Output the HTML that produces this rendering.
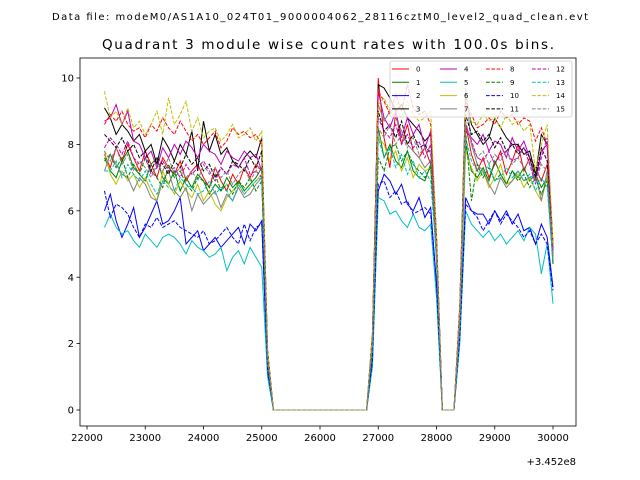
<!DOCTYPE html>
<html><head><meta charset="utf-8"><style>
body{margin:0;background:#fff}
svg{display:block;font-family:"DejaVu Sans","Liberation Sans",sans-serif}
</style></head><body>
<svg id="chart" width="640" height="480" viewBox="0 0 640 480">
<rect width="640" height="480" fill="#fff"/>
<text x="320" y="20" font-size="10" text-anchor="middle" textLength="536">Data file: modeM0/AS1A10_024T01_9000004062_28116cztM0_level2_quad_clean.evt</text>
<text x="328" y="49" font-size="13.5" text-anchor="middle" textLength="452">Quadrant 3 module wise count rates with 100.0s bins.</text>
<g id="plot"></g>
<g id="axes"></g>
<g id="legend"></g>
</svg>
<script>
const times = [];
for (let t = 22300; t <= 30000; t += 100) times.push(t);
const Z = [0,0,0,0,0,0,0,0,0,0,0,0,0,0,0,0,0];
const seriesNames = ["0","1","2","3","4","5","6","7","8","9","10","11","12","13","14","15"];
const s0 = [7.7,7.3,7.9,7.5,8.0,7.6,7.2,7.8,7.4,7.0,7.6,7.3,7.1,7.5,6.9,7.2,7.4,7.0,6.7,7.3,6.9,6.6,7.1,6.8,7.3,7.0,7.4,7.2,1.5,...Z,2.0,10.0,8.2,7.3,9.0,8.0,8.6,7.8,7.6,7.9,7.4,4.8,0,0,0,2.8,8.6,7.7,7.2,7.6,7.0,7.4,7.8,7.1,7.5,8.0,7.2,7.6,7.3,6.9,7.4,4.6];
const s1 = [7.6,7.2,7.0,7.5,7.8,7.3,7.1,6.9,7.4,7.6,7.0,6.8,7.2,6.6,7.0,6.7,7.1,6.9,6.5,6.8,6.6,7.0,6.7,6.9,6.6,6.8,7.0,7.3,1.4,...Z,1.8,8.5,7.6,8.0,7.5,7.3,7.8,7.2,7.0,6.9,7.4,4.5,0,0,0,2.6,8.0,7.2,7.0,7.3,6.9,7.5,7.1,6.8,7.2,7.0,7.3,6.9,7.1,6.7,7.0,4.4];
const s2 = [6.0,6.5,5.7,5.2,5.6,6.1,5.2,5.5,5.9,6.3,5.6,5.7,6.0,6.4,5.0,5.2,5.4,4.8,5.0,5.2,4.9,5.1,5.3,5.5,5.0,5.6,5.4,5.7,1.2,...Z,1.5,6.6,7.1,6.9,6.5,6.8,6.2,6.0,6.4,5.8,6.1,3.8,0,0,0,2.2,6.4,6.0,5.9,5.9,5.6,6.0,5.7,6.0,5.6,5.9,5.4,5.5,5.0,5.6,5.2,3.7];
const s3 = [9.1,8.8,8.3,8.6,8.4,8.1,8.3,7.8,8.0,7.4,8.2,7.9,7.5,8.0,7.7,8.4,7.2,8.7,7.8,8.3,7.7,7.9,7.5,7.3,7.6,7.8,7.6,8.2,1.8,...Z,2.3,9.8,9.7,9.4,9.0,9.2,8.8,8.6,8.4,8.1,8.3,5.2,0,0,0,3.1,9.5,8.6,8.3,8.0,8.2,8.8,8.5,8.2,8.0,8.0,7.7,7.8,7.1,8.3,8.0,5.0];
const s4 = [8.7,8.8,9.2,8.6,9.0,8.1,8.0,7.6,7.8,7.3,7.9,7.6,8.0,7.7,8.1,7.9,7.6,8.0,7.8,7.7,7.4,7.8,7.6,7.5,7.8,7.6,7.7,7.2,1.7,...Z,2.1,9.6,8.8,8.5,9.0,8.2,8.8,8.3,8.6,7.9,8.4,5.0,0,0,0,3.0,8.4,8.2,8.0,8.3,7.8,8.1,8.0,7.6,8.2,7.8,8.1,7.6,6.9,7.8,8.0,4.8];
const s5 = [5.5,5.9,5.5,5.3,5.4,5.1,4.9,5.3,5.1,4.9,5.2,5.3,5.2,5.0,4.7,5.1,4.9,4.8,4.6,4.7,4.9,4.2,4.6,4.8,4.4,4.9,4.6,4.3,1.0,...Z,1.3,6.4,6.3,5.9,6.0,5.7,5.5,5.9,5.5,5.4,5.6,3.4,0,0,0,2.0,6.0,5.6,5.4,5.2,5.4,5.1,5.3,5.0,5.2,5.4,5.1,5.5,5.3,4.1,5.0,3.2];
const s6 = [7.8,7.1,6.8,7.2,6.9,7.1,6.7,7.0,6.6,6.3,7.2,6.8,6.5,6.9,6.6,6.4,6.8,6.3,6.6,6.2,6.0,6.4,6.6,6.8,6.5,6.7,6.9,7.1,1.4,...Z,1.9,8.2,8.0,7.5,7.8,7.2,7.6,7.0,7.4,7.2,7.3,4.6,0,0,0,2.5,7.8,7.3,6.9,7.2,6.7,7.0,7.4,6.8,6.9,7.1,6.7,7.0,6.6,6.3,7.0,4.5];
const s7 = [7.2,7.7,7.4,7.1,7.0,6.6,7.0,6.8,6.4,6.3,6.9,7.2,6.6,6.4,6.7,6.0,6.5,6.2,6.4,6.6,6.1,6.5,6.3,6.7,6.4,6.5,6.8,7.0,1.5,...Z,2.2,9.2,8.7,9.0,8.8,8.4,8.0,7.8,7.6,7.3,7.5,4.9,0,0,0,2.9,9.7,8.0,7.4,7.2,6.8,6.5,7.0,6.7,6.9,7.2,6.9,7.0,7.1,6.3,7.2,4.7];
const s8 = [8.6,8.9,8.7,9.0,8.6,8.4,8.5,8.2,8.6,8.4,8.8,8.5,8.3,8.7,8.4,8.1,8.3,8.0,8.2,8.4,7.9,8.1,8.5,8.3,8.4,8.2,8.3,8.0,1.8,...Z,2.3,9.6,9.3,8.9,9.5,9.0,9.8,9.1,8.9,9.0,8.6,5.3,0,0,0,3.2,9.3,8.9,8.5,8.6,8.8,8.6,9.0,8.8,8.9,8.6,8.8,8.7,8.1,8.5,8.0,5.0];
const s9 = [7.5,7.7,7.3,7.6,7.0,7.4,7.1,7.6,7.2,7.0,6.7,7.4,7.0,7.2,6.8,6.6,7.0,6.9,6.7,7.1,6.6,6.8,6.5,6.9,6.7,7.0,6.6,6.9,1.4,...Z,1.8,7.6,7.2,7.9,8.0,7.5,7.8,7.4,7.2,7.0,7.3,4.6,0,0,0,2.6,8.4,6.3,7.4,7.0,7.3,6.9,7.1,6.8,7.2,6.9,7.1,6.7,7.0,6.5,6.9,4.4];
const s10 = [6.6,5.8,6.2,6.1,5.9,5.5,5.2,5.6,5.5,5.8,5.5,5.6,5.7,5.5,5.4,5.3,5.2,5.4,5.0,5.1,5.3,5.5,5.2,5.0,5.6,5.1,5.5,5.6,1.2,...Z,1.5,6.8,6.9,6.4,6.6,6.2,6.3,5.9,6.0,6.1,5.9,3.8,0,0,0,2.2,6.2,6.0,5.8,5.4,5.7,6.0,5.6,5.9,5.7,5.5,5.2,5.4,5.0,5.3,5.0,3.6];
const s11 = [8.3,8.1,7.9,8.2,7.8,8.0,7.6,7.8,7.2,7.6,7.4,7.1,7.5,7.3,7.7,7.4,7.6,7.2,7.4,7.0,7.3,7.1,7.5,7.4,7.2,7.6,7.3,7.8,1.6,...Z,2.0,9.0,8.4,8.6,8.2,8.7,8.0,8.3,7.9,8.0,7.7,5.0,0,0,0,2.8,8.9,8.3,8.4,8.1,8.3,7.9,8.2,7.8,8.0,7.7,7.9,7.6,7.0,7.9,7.5,4.8];
const s12 = [7.9,8.2,8.0,7.7,8.1,7.6,7.4,7.6,7.1,7.3,7.5,7.2,7.3,7.0,7.4,7.1,7.3,7.5,7.2,6.9,7.3,7.1,7.4,7.3,7.6,7.1,7.2,7.0,1.6,...Z,2.0,8.8,8.4,8.2,8.6,8.0,8.3,7.9,8.1,7.6,8.0,4.9,0,0,0,2.7,8.6,8.1,7.6,7.5,7.8,7.4,7.7,7.8,7.5,7.6,7.9,7.4,6.8,7.6,8.2,4.7];
const s13 = [7.2,7.2,7.5,7.0,7.4,7.1,6.9,7.2,6.8,6.5,6.9,6.7,6.6,7.0,6.8,6.7,6.5,6.6,6.9,6.5,6.7,6.6,6.3,6.8,6.5,6.7,6.9,7.0,1.5,...Z,1.9,8.2,7.6,7.9,7.3,7.7,7.1,7.5,7.0,7.2,6.9,4.6,0,0,0,2.6,8.2,7.5,7.2,7.1,7.4,6.9,7.0,7.3,7.0,7.2,6.9,7.1,6.6,7.0,6.7,4.5];
const s14 = [9.6,8.8,9.0,8.6,9.1,8.5,8.7,8.3,8.6,9.0,8.3,9.4,8.6,8.9,9.3,8.4,8.8,8.2,8.4,8.5,8.1,8.3,8.6,8.2,8.3,8.5,8.1,8.4,1.8,...Z,2.3,9.2,9.4,9.0,9.1,8.8,9.3,8.9,8.7,8.8,9.0,5.2,0,0,0,3.1,9.0,8.7,8.6,8.9,8.7,8.8,8.5,8.9,8.6,8.7,8.4,8.6,7.2,8.0,8.6,5.0];
const s15 = [7.8,7.5,7.9,7.4,7.7,7.2,7.5,7.3,7.0,7.4,7.2,7.6,7.1,7.3,7.0,7.2,6.9,7.4,7.1,7.3,7.0,7.2,6.8,7.1,7.3,6.9,7.2,7.4,1.5,...Z,2.0,8.5,8.2,8.6,8.0,8.3,7.9,8.2,7.7,7.9,7.8,4.8,0,0,0,2.8,8.7,8.0,7.6,7.8,7.4,7.7,7.5,7.8,7.4,7.6,7.3,7.5,6.9,7.4,7.2,4.6];
const seriesValues = [s0,s1,s2,s3,s4,s5,s6,s7,s8,s9,s10,s11,s12,s13,s14,s15];
const xTicks = [22000,23000,24000,25000,26000,27000,28000,29000,30000];
const xTickLabels = ["22000","23000","24000","25000","26000","27000","28000","29000","30000"];
const yTicks = [0,2,4,6,8,10];
const yTickLabels = ["0","2","4","6","8","10"];

const colors = ["#ff0000","#008000","#0000ff","#000000","#bf00bf","#00bfbf","#bfbf00","#808080"];
const NS = "http://www.w3.org/2000/svg";
const L = 80, R = 576, T = 58, B = 426;
function xs(t){ return 87 + (t - 22000) * 0.05825; }
function ys(v){ return 410 - v * 33.2; }
function mk(tag, attrs, parent){ const e = document.createElementNS(NS, tag); for (const k in attrs) e.setAttribute(k, attrs[k]); parent.appendChild(e); return e; }
const plot = document.getElementById("plot");
const axes = document.getElementById("axes");
const legend = document.getElementById("legend");

seriesValues.forEach((vals, si) => {
  const d = vals.map((v, i) => (i ? "L" : "M") + xs(times[i]).toFixed(2) + " " + ys(v).toFixed(2)).join(" ");
  const p = mk("path", {d: d, fill: "none", stroke: colors[si % 8], "stroke-width": 1, "stroke-dasharray": si >= 8 ? "3.7 1.6" : "none"}, plot);
  
  
});

const frame = mk("rect", {x: L, y: T, width: R - L, height: B - T, fill: "none", stroke: "#000", "stroke-width": 0.8}, axes);


xTicks.forEach((t, i) => {
  const x = xs(t);
  const tk = mk("line", {x1: x, x2: x, y1: B, y2: B + 3.5, stroke: "#000", "stroke-width": 0.8}, axes);
  
  
  const tx = mk("text", {x: x, y: B + 15, "font-size": 10, "text-anchor": "middle"}, axes);
  tx.textContent = xTickLabels[i];
  
  
});
yTicks.forEach((v, i) => {
  const y = ys(v);
  const tk = mk("line", {x1: L - 3.5, x2: L, y1: y, y2: y, stroke: "#000", "stroke-width": 0.8}, axes);
  
  
  const tx = mk("text", {x: L - 6, y: y + 3.6, "font-size": 10, "text-anchor": "end"}, axes);
  tx.textContent = yTickLabels[i];
  
  
});
const off = mk("text", {x: R, y: 465, "font-size": 10, "text-anchor": "end"}, axes);
off.textContent = "+3.452e8";



const lb = mk("rect", {x: 390, y: 61, width: 182, height: 56, rx: 2, fill: "#fff", "fill-opacity": 0.8, stroke: "#ccc", "stroke-width": 0.8}, legend);


const colX = [392, 440, 486, 532];
seriesNames.forEach((n, si) => {
  const c = Math.floor(si / 4), r = si % 4;
  const y = 69 + r * 13.3;
  const g = mk("g", {}, legend);
  
  
  mk("line", {x1: colX[c], x2: colX[c] + 17, y1: y, y2: y, stroke: colors[si % 8], "stroke-width": 1, "stroke-dasharray": si >= 8 ? "3.7 1.6" : "none"}, g);
  const t = mk("text", {x: colX[c] + 24, y: y + 2.5, "font-size": 7}, g);
  t.textContent = n;
});
</script>
</body></html>
